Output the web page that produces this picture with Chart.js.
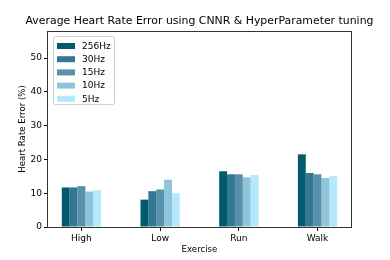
<!DOCTYPE html>
<html lang="en">

<head>
    <meta charset="UTF-8">
    <title>Average Heart Rate Error</title>
    <style>
        body { margin: 0; background: #fff; }
        #wrap { width: 390px; height: 260px; }
    </style>
</head>

<body>
    <div id="wrap">
        <canvas id="myChart" width="390" height="260"></canvas>
    </div>

    <script src="https://cdn.jsdelivr.net/npm/chart.js"></script>
    <script>
        // data
        const exercises = ['High', 'Low', 'Run', 'Walk'];
        const seriesNames = ['256Hz', '30Hz', '15Hz', '10Hz', '5Hz'];
        const hz256 = [11.7, 8.1, 16.5, 21.5];
        const hz30 = [11.7, 10.6, 15.6, 16.0];
        const hz15 = [12.1, 11.1, 15.6, 15.6];
        const hz10 = [10.5, 14.0, 14.7, 14.5];
        const hz5 = [10.9, 10.0, 15.4, 15.1];
        const yTicks = [0, 10, 20, 30, 40, 50];

        const colors = ['#035a70', '#337890', '#5990aa', '#8ec4dc', '#b5e8fb'];
        const allSeries = [hz256, hz30, hz15, hz10, hz5];
        const font = 'DejaVu Sans';
        const titleText = 'Average Heart Rate Error using CNNR & HyperParameter tuning';

        const datasets = allSeries.map((vals, i) => ({
            label: seriesNames[i],
            data: vals.map((v, j) => ({ x: j, y: v })),
            backgroundColor: colors[i],
            borderWidth: 0,
            categoryPercentage: 0.5,
            barPercentage: 1.0
        }));

        // title over the axes, frame round the plot, legend box inside it
        const framePlugin = {
            id: 'frame',
            afterDraw(chart) {
                const ctx = chart.ctx;
                const a = chart.chartArea;
                ctx.save();
                ctx.strokeStyle = '#333';
                ctx.lineWidth = 1;
                ctx.strokeRect(Math.round(a.left) - 0.5, Math.round(a.top) + 0.5,
                    Math.round(a.right - a.left) + 1, Math.round(a.bottom - a.top));

                ctx.fillStyle = '#000';
                ctx.font = '10.9px ' + font;
                ctx.textAlign = 'center';
                ctx.textBaseline = 'middle';
                ctx.fillText(titleText, (a.left + a.right) / 2, 21);

                // legend
                const lx = a.left + 5, ly = a.top + 5;
                const w = 61, h = 68;
                ctx.fillStyle = 'rgba(255,255,255,0.8)';
                ctx.strokeStyle = '#d0d0d0';
                ctx.beginPath();
                ctx.roundRect(lx + 0.5, ly + 0.5, w, h, 2);
                ctx.fill();
                ctx.stroke();
                ctx.font = '9px ' + font;
                ctx.textAlign = 'left';
                seriesNames.forEach((name, i) => {
                    const cy = ly + 10 + i * 13.2;
                    ctx.fillStyle = colors[i];
                    ctx.fillRect(lx + 4, cy - 3, 18, 6);
                    ctx.fillStyle = '#000';
                    ctx.fillText(name, lx + 29, cy + 0.5);
                });
                ctx.restore();
            }
        };

        new Chart(document.getElementById('myChart'), {
            type: 'bar',
            data: { datasets: datasets },
            options: {
                responsive: false,
                animation: false,
                layout: { padding: { left: 0, right: 39, top: 31, bottom: 0 } },
                plugins: {
                    legend: { display: false },
                    tooltip: { enabled: false },
                    title: { display: false }
                },
                scales: {
                    x: {
                        type: 'linear',
                        min: -0.425,
                        max: 3.425,
                        offset: false,
                        afterBuildTicks: (axis) => { axis.ticks = exercises.map((_, i) => ({ value: i })); },
                        afterFit: (axis) => { axis.height = 33; },
                        ticks: {
                            color: '#000',
                            font: { family: font, size: 9 },
                            padding: 2,
                            callback: (v) => exercises[v]
                        },
                        grid: { offset: false, drawOnChartArea: false, drawTicks: true, tickLength: 4, color: '#000' },
                        border: { display: false },
                        title: {
                            display: true,
                            text: 'Exercise',
                            color: '#000',
                            font: { family: font, size: 8.6 },
                            padding: { top: 1, bottom: 5 }
                        }
                    },
                    y: {
                        min: 0,
                        max: 58,
                        afterBuildTicks: (axis) => { axis.ticks = yTicks.map(v => ({ value: v })); },
                        afterFit: (axis) => { axis.width = 48; },
                        ticks: {
                            color: '#000',
                            font: { family: font, size: 9 },
                            padding: 2
                        },
                        grid: { drawOnChartArea: false, drawTicks: true, tickLength: 4, color: '#000' },
                        border: { display: false },
                        title: {
                            display: true,
                            text: 'Heart Rate Error (%)',
                            color: '#000',
                            font: { family: font, size: 8.6 },
                            padding: { top: 18, bottom: 0 }
                        }
                    }
                }
            },
            plugins: [framePlugin]
        });
    </script>
</body>

</html>
